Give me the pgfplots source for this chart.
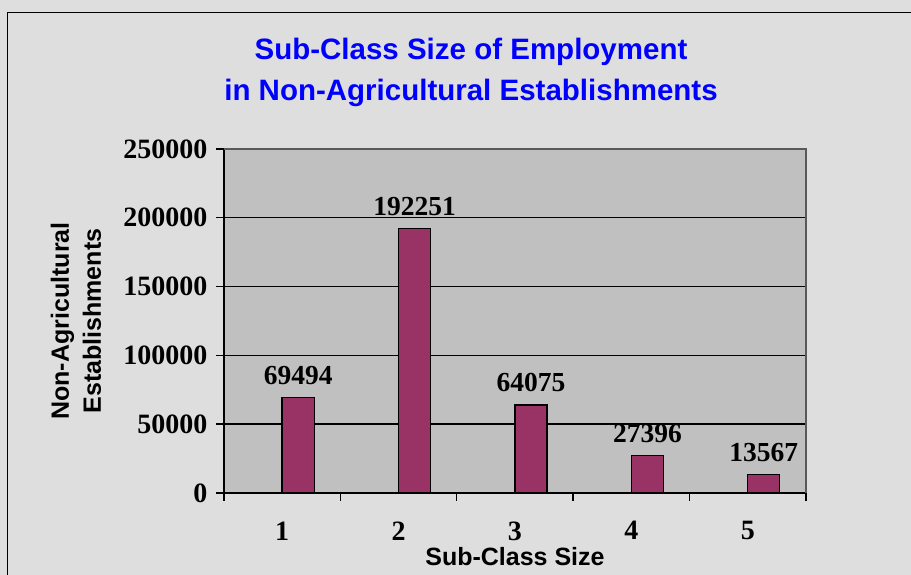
\documentclass[border=0pt]{standalone}
\usepackage{fontspec}
\setmainfont{Liberation Serif}
\setsansfont{Liberation Sans}
\usepackage{pgfplots}
\pgfplotsset{compat=1.18}
\definecolor{bg}{RGB}{222,222,222}
\definecolor{plotbg}{RGB}{192,192,192}
\definecolor{barc}{RGB}{153,51,102}
\definecolor{titleblue}{RGB}{0,0,255}
\begin{document}
\begin{tikzpicture}[x=1pt,y=1pt]
\useasboundingbox (0,0) rectangle (911,575);
\fill[bg] (0,0) rectangle (911,575);
\draw[line width=1.6pt] (7.5,0) -- (7.5,562.5) -- (911,562.5);
\node[align=center, font=\sffamily\bfseries\fontsize{29.5}{41}\selectfont, text=titleblue] at (471,502.5) {Sub-Class Size of Employment\\in Non-Agricultural Establishments};
\begin{axis}[
  at={(224pt,82pt)}, anchor=south west,
  scale only axis, width=582pt, height=344pt,
  xmin=0.5, xmax=5.5, ymin=0, ymax=250000,
  axis background/.style={fill=plotbg},
  axis x line*=bottom, axis y line*=left,
  axis line style={black, line width=1.4pt},
  ytick={0,50000,100000,150000,200000,250000},
  xtick={1,2,3,4,5},
  minor xtick={0.5,1.5,2.5,3.5,4.5,5.5},
  tick align=outside,
  major tick length=8pt, minor tick length=8pt,
  tick style={black, line width=1.4pt},
  major x tick style={draw=none},
  ymajorgrids,
  major grid style={black, line width=1.4pt},
  scaled y ticks=false,
  /pgf/number format/assume math mode=true,
  yticklabel style={/pgf/number format/fixed, /pgf/number format/1000 sep={}, xshift=-5pt},
  tick label style={font=\bfseries\fontsize{28}{30}\selectfont},
  xticklabel style={yshift=-17pt},
  xlabel={Sub-Class Size},
  ylabel={Non-Agricultural\\Establishments},
  every axis x label/.style={at={(rel axis cs:0.5,0)}, yshift=-64pt, anchor=center, font=\sffamily\bfseries\fontsize{25}{28}\selectfont},
  every axis y label/.style={at={(rel axis cs:0,0.5)}, xshift=-148pt, anchor=center, rotate=90, align=center, font=\sffamily\bfseries\fontsize{25}{32}\selectfont},
  ybar, bar width=32pt, bar shift=16pt,
  nodes near coords,
  nodes near coords style={font=\bfseries\fontsize{27.5}{30}\selectfont, anchor=south, inner sep=0pt, yshift=12pt, /pgf/number format/fixed, /pgf/number format/1000 sep={}},
  after end axis/.code={\draw[gray!70!black, line width=1.2pt] (rel axis cs:0,1) -- (rel axis cs:1,1) -- (rel axis cs:1,0);},
]
\addplot[ybar, fill=barc, draw=black, line width=1.4pt] coordinates {(1,69494) (2,192251) (3,64075) (4,27396) (5,13567)};
\end{axis}
\end{tikzpicture}
\end{document}
